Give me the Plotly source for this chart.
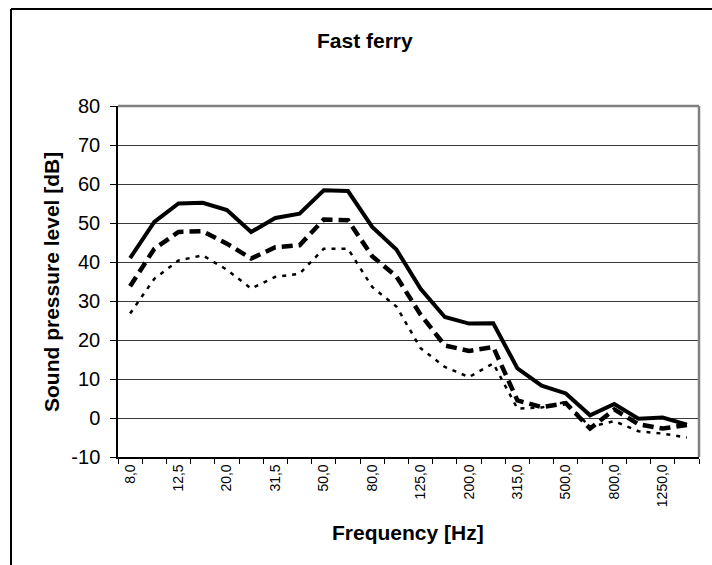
import plotly.graph_objects as go

categories = ["8,0", "10,0", "12,5", "16,0", "20,0", "25,0", "31,5", "40,0", "50,0", "63,0",
              "80,0", "100,0", "125,0", "160,0", "200,0", "250,0", "315,0", "400,0", "500,0",
              "630,0", "800,0", "1000,0", "1250,0", "1600,0"]

series_solid = [41.0, 50.3, 55.0, 55.2, 53.3, 47.7, 51.3, 52.4, 58.4, 58.2, 49.0, 43.2,
                33.1, 25.9, 24.2, 24.3, 12.7, 8.3, 6.3, 0.7, 3.6, -0.2, 0.1, -1.7]
series_dashed = [33.8, 43.4, 47.7, 47.9, 44.7, 40.9, 43.8, 44.3, 50.9, 50.7, 41.5, 36.3,
                 26.5, 18.6, 17.2, 18.2, 4.5, 2.8, 3.8, -2.7, 2.2, -1.6, -2.7, -1.8]
series_dotted = [26.8, 35.7, 40.4, 41.7, 38.0, 33.2, 36.2, 37.0, 43.4, 43.4, 33.6, 28.6,
                 17.9, 13.1, 10.5, 14.0, 2.4, 2.7, 4.1, -2.3, -0.8, -3.4, -4.0, -5.0]

tick_labels = [c if i % 2 == 0 else "" for i, c in enumerate(categories)]
y_ticks = [-10, 0, 10, 20, 30, 40, 50, 60, 70, 80]
y_tick_labels = ["-10", "0", "10", "20", "30", "40", "50", "60", "70", "80"]

FONT = "Liberation Sans, Arial, sans-serif"

W, H = 712, 565
L, R, T, B = 118, 13, 106, 108
pw, ph = W - L - R, H - T - B


def px_x(x):
    return (x - L) / pw


def px_y(y):
    return (H - B - y) / ph


fig = go.Figure()
fig.add_trace(go.Scatter(x=categories, y=series_dotted, mode="lines",
                         line=dict(color="black", width=2.5, dash="4px,6px"),
                         showlegend=False))
fig.add_trace(go.Scatter(x=categories, y=series_dashed, mode="lines",
                         line=dict(color="black", width=4.5, dash="11px,6px"),
                         showlegend=False))
fig.add_trace(go.Scatter(x=categories, y=series_solid, mode="lines",
                         line=dict(color="black", width=4),
                         showlegend=False))

fig.update_layout(
    width=W, height=H,
    margin=dict(l=L, r=R, t=T, b=B),
    paper_bgcolor="white", plot_bgcolor="white",
    font=dict(family=FONT, color="black"),
    xaxis=dict(
        type="category", range=[-0.5, len(categories) - 0.5],
        tickmode="array", tickvals=categories, ticktext=tick_labels,
        tickson="boundaries", ticks="outside", ticklen=5, tickwidth=1.2, tickcolor="black",
        tickangle=-90, tickfont=dict(size=14, family=FONT),
        showgrid=False, showline=True, linecolor="black", linewidth=1.5,
        zeroline=False,
    ),
    yaxis=dict(
        range=[-10, 80], tickmode="array", tickvals=y_ticks, ticktext=y_tick_labels,
        ticks="outside", ticklen=6, tickwidth=1.2, tickcolor="black",
        tickfont=dict(size=20, family=FONT), ticklabelstandoff=6,
        showgrid=True, gridcolor="#3a3a3a", gridwidth=1,
        showline=True, linecolor="black", linewidth=1.5, zeroline=False,
    ),
    shapes=[
        dict(type="line", xref="paper", yref="paper", x0=0, x1=1, y0=1, y1=1,
             line=dict(color="#808080", width=2.5), layer="above"),
        dict(type="line", xref="paper", yref="paper", x0=1, x1=1, y0=0, y1=1,
             line=dict(color="#808080", width=2.5), layer="above"),
        dict(type="line", xref="paper", yref="paper",
             x0=px_x(11), x1=px_x(712), y0=px_y(9), y1=px_y(9),
             line=dict(color="black", width=2), layer="above"),
        dict(type="line", xref="paper", yref="paper",
             x0=px_x(11), x1=px_x(11), y0=px_y(565), y1=px_y(9),
             line=dict(color="black", width=2), layer="above"),
    ],
    annotations=[
        dict(text="<b>Fast ferry</b>", xref="paper", yref="paper",
             x=px_x(365), y=px_y(40), xanchor="center", yanchor="middle",
             showarrow=False, font=dict(size=21, family=FONT)),
        dict(text="<b>Frequency [Hz]</b>", xref="paper", yref="paper",
             x=px_x(408), y=px_y(532), xanchor="center", yanchor="middle",
             showarrow=False, font=dict(size=21, family=FONT)),
        dict(text="<b>Sound pressure level [dB]</b>", xref="paper", yref="paper",
             x=px_x(51), y=px_y(282), xanchor="center", yanchor="middle", textangle=-90,
             showarrow=False, font=dict(size=21, family=FONT)),
    ],
)

fig.write_html(
    "out.html",
    config={"displayModeBar": False},
    post_script="document.body.style.margin='0';document.body.style.overflow='hidden';",
)
